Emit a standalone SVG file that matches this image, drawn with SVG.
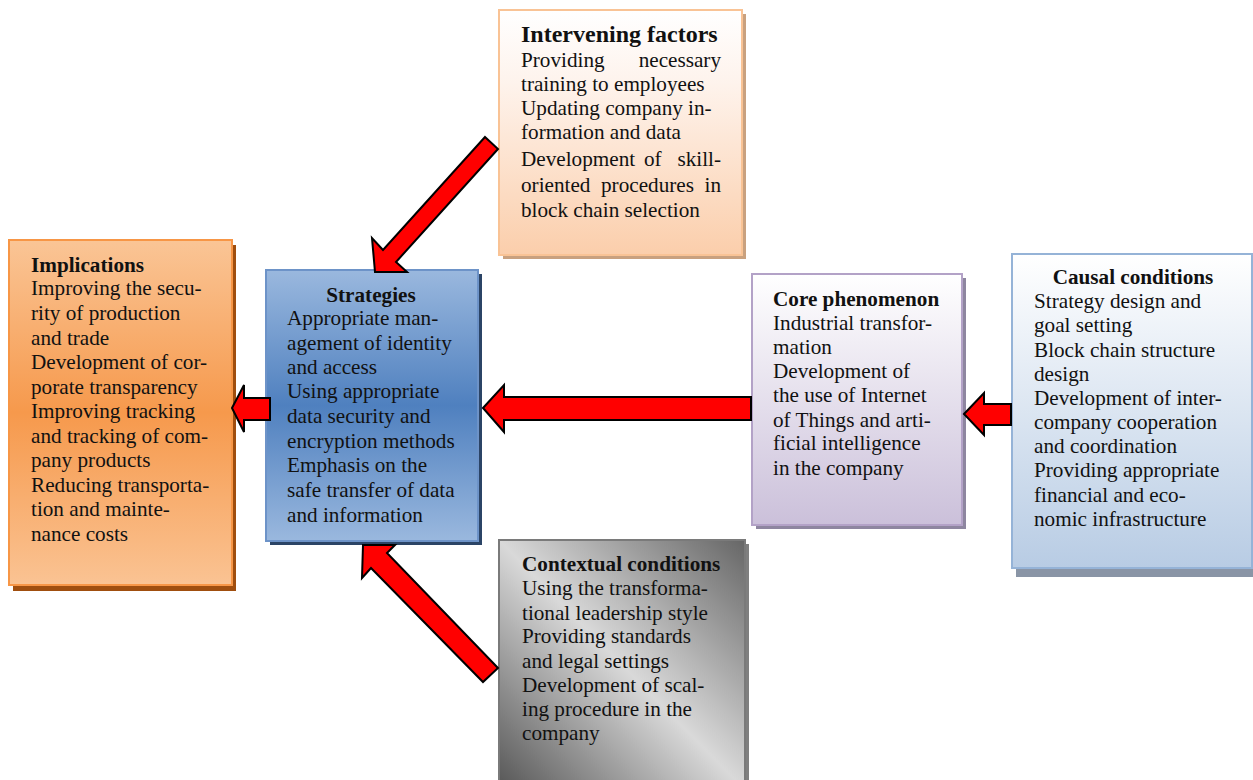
<svg xmlns="http://www.w3.org/2000/svg" width="1253" height="780" viewBox="0 0 1253 780">
<defs>
<linearGradient id="gOrange" x1="0" y1="0" x2="0" y2="1">
<stop offset="0" stop-color="#fac596"/><stop offset="0.5" stop-color="#f6994c"/><stop offset="1" stop-color="#fac393"/>
</linearGradient>
<linearGradient id="gBlue" x1="0" y1="0" x2="0" y2="1">
<stop offset="0" stop-color="#9ab8de"/><stop offset="0.5" stop-color="#4f80bf"/><stop offset="1" stop-color="#9ab8de"/>
</linearGradient>
<linearGradient id="gPeach" x1="0" y1="0" x2="0" y2="1">
<stop offset="0" stop-color="#ffffff"/><stop offset="0.3" stop-color="#fef3ec"/><stop offset="1" stop-color="#fbceab"/>
</linearGradient>
<linearGradient id="gLav" x1="0" y1="0" x2="0" y2="1">
<stop offset="0" stop-color="#ffffff"/><stop offset="1" stop-color="#cbc0da"/>
</linearGradient>
<linearGradient id="gLBlue" x1="0" y1="0" x2="0" y2="1">
<stop offset="0" stop-color="#ffffff"/><stop offset="1" stop-color="#b8cce4"/>
</linearGradient>
<linearGradient id="gGray" x1="0" y1="1" x2="1" y2="0">
<stop offset="0" stop-color="#555555"/><stop offset="0.5" stop-color="#d9d9d9"/><stop offset="1" stop-color="#666666"/>
</linearGradient>
</defs>
<style>
text{font-family:"Liberation Serif","Times New Roman",serif;font-size:21.2px;fill:#111}
.t{font-weight:bold}
.c{text-anchor:middle}
.e{text-anchor:end}
.arrow{fill:#ff0000;stroke:#000;stroke-width:2;stroke-linejoin:miter}
</style>
<rect width="1253" height="780" fill="#ffffff"/>

<g id="intervening">
<rect x="503" y="14" width="243" height="245" fill="#c9a17f"/>
<rect x="499" y="10" width="243" height="245" fill="url(#gPeach)" stroke="#f9c395" stroke-width="2"/>
<text x="521" y="42" class="t" style="font-size:24px">Intervening factors</text>
<text x="521" y="67">Providing</text><text x="721" y="67" class="e">necessary</text>
<text x="521" y="91">training to employees</text>
<text x="521" y="115">Updating company in-</text>
<text x="521" y="139">formation and data</text>
<text x="521" y="166">Development</text><text x="644" y="166">of</text><text x="721" y="166" class="e">skill-</text>
<text x="521" y="192">oriented</text><text x="601" y="192">procedures</text><text x="721" y="192" class="e">in</text>
<text x="521" y="217">block chain selection</text>
</g>

<g id="implications">
<rect x="13" y="245" width="223" height="346" fill="#a04e0e"/>
<rect x="9" y="240" width="223" height="345" fill="url(#gOrange)" stroke="#f79646" stroke-width="2"/>
<text x="31" y="272" class="t">Implications</text>
<text x="31" y="295">Improving the secu-</text>
<text x="31" y="320">rity of production</text>
<text x="31" y="345">and trade</text>
<text x="31" y="369">Development of cor-</text>
<text x="31" y="394">porate transparency</text>
<text x="31" y="418">Improving tracking</text>
<text x="31" y="443">and tracking of com-</text>
<text x="31" y="467">pany products</text>
<text x="31" y="492">Reducing transporta-</text>
<text x="31" y="516">tion and mainte-</text>
<text x="31" y="541">nance costs</text>
</g>

<g id="strategies">
<rect x="270" y="274" width="212" height="271" fill="#2b4466"/>
<rect x="266" y="270" width="212" height="271" fill="url(#gBlue)" stroke="#6d93c8" stroke-width="2"/>
<text x="371" y="302" class="t c">Strategies</text>
<text x="287" y="325">Appropriate man-</text>
<text x="287" y="350">agement of identity</text>
<text x="287" y="374">and access</text>
<text x="287" y="398">Using appropriate</text>
<text x="287" y="423">data security and</text>
<text x="287" y="448">encryption methods</text>
<text x="287" y="472">Emphasis on the</text>
<text x="287" y="497">safe transfer of data</text>
<text x="287" y="522">and information</text>
</g>

<g id="core">
<rect x="756" y="278" width="210" height="251" fill="#8e86a0"/>
<rect x="752" y="274" width="210" height="251" fill="url(#gLav)" stroke="#b3a2c7" stroke-width="2"/>
<text x="773" y="306" class="t">Core phenomenon</text>
<text x="773" y="330">Industrial transfor-</text>
<text x="773" y="354">mation</text>
<text x="773" y="378">Development of</text>
<text x="773" y="402">the use of Internet</text>
<text x="773" y="427">of Things and arti-</text>
<text x="773" y="450">ficial intelligence</text>
<text x="773" y="475">in the company</text>
</g>

<g id="causal">
<rect x="1016" y="259" width="240" height="318" fill="#8a95a6"/>
<rect x="1012" y="254" width="240" height="314" fill="url(#gLBlue)" stroke="#95b3d7" stroke-width="2"/>
<text x="1133" y="284" class="t c">Causal conditions</text>
<text x="1034" y="308">Strategy design and</text>
<text x="1034" y="332">goal setting</text>
<text x="1034" y="357">Block chain structure</text>
<text x="1034" y="381">design</text>
<text x="1034" y="405">Development of inter-</text>
<text x="1034" y="429">company cooperation</text>
<text x="1034" y="453">and coordination</text>
<text x="1034" y="477">Providing appropriate</text>
<text x="1034" y="502">financial and eco-</text>
<text x="1034" y="526">nomic infrastructure</text>
</g>

<g id="contextual">
<rect x="503" y="544" width="246" height="250" fill="#7f7f7f"/>
<rect x="499" y="540" width="246" height="250" fill="url(#gGray)" stroke="#7a7a7a" stroke-width="2"/>
<text x="522" y="571" class="t">Contextual conditions</text>
<text x="522" y="595">Using the transforma-</text>
<text x="522" y="620">tional leadership style</text>
<text x="522" y="643">Providing standards</text>
<text x="522" y="668">and legal settings</text>
<text x="522" y="692">Development of scal-</text>
<text x="522" y="716">ing procedure in the</text>
<text x="522" y="740">company</text>
</g>

<g id="connectors">
<polygon class="arrow" points="483,408 504,385 504,397 751,397 751,420 504,420 504,432"/>
<polygon class="arrow" points="964,414 984,393 984,404 1011,404 1011,425 984,425 984,435"/>
<polygon class="arrow" points="232,408 244,385 244,398 270,398 270,420 244,420 244,432"/>
<polygon class="arrow" points="485,137 498,149 396,262 407,272 375,272 372,238 383,250"/>
<polygon class="arrow" points="363,545 395,545 387,553 498,668 483,682 371,568 362,578"/>
</g>
</svg>
